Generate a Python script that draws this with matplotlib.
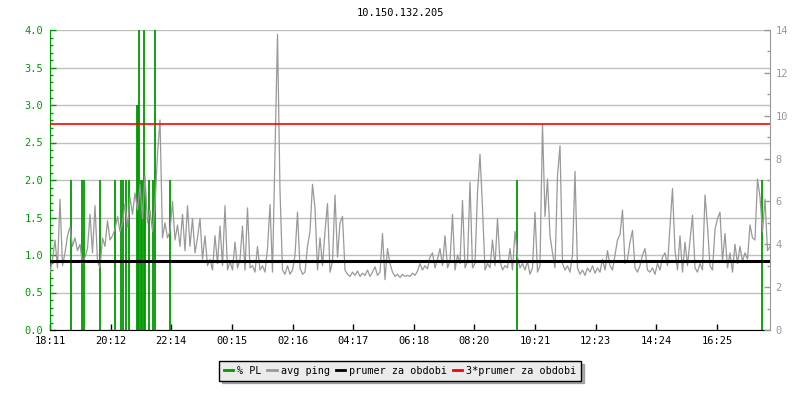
import numpy as np
import matplotlib
matplotlib.use("Agg")
import matplotlib.pyplot as plt
from matplotlib.lines import Line2D
from matplotlib.ticker import MultipleLocator, FormatStrFormatter

# avg ping in ms, one sample every 5 minutes starting 18:11
ping_ms = [
    2.7, 3.3, 4.2, 2.9, 6.1, 3.0, 3.6, 4.4, 4.8, 3.9, 4.3, 3.7, 4.0, 3.1, 3.4, 3.8,
    5.4, 3.6, 5.8, 3.2, 2.9, 4.3, 3.9, 5.1, 4.2, 4.4, 4.7, 5.3, 4.6, 5.0, 5.9, 4.8,
    6.2, 5.4, 6.4, 5.6, 6.8, 5.2, 7.2, 5.0, 5.6, 4.6, 5.8, 8.2, 9.8, 4.3, 5.0, 4.3,
    4.6, 6.0, 4.2, 4.9, 3.9, 5.4, 3.7, 5.8, 3.9, 5.2, 3.6, 4.3, 5.2, 3.3, 4.4, 3.0,
    3.3, 2.8, 4.4, 3.1, 4.85, 3.0, 5.8, 2.8, 3.2, 2.8, 4.1, 2.9, 3.3, 4.85, 2.8, 5.7,
    2.9, 3.0, 2.7, 3.9, 2.8, 3.0, 2.7, 3.8, 5.85, 2.7, 8.2, 13.8, 6.5, 2.8, 2.6, 3.0,
    2.6, 2.8, 3.5, 5.5, 2.9, 2.6, 2.7, 3.9, 4.6, 6.8, 5.7, 2.8, 4.3, 3.0, 4.6, 5.9,
    2.7, 3.2, 6.3, 3.4, 5.0, 5.3, 2.8, 2.6, 2.5, 2.7, 2.55, 2.75, 2.5, 2.65, 2.55, 2.8,
    2.5, 2.7, 2.95, 2.55, 2.7, 4.5, 2.35, 3.8, 3.1, 2.7, 2.5, 2.6, 2.45, 2.6, 2.5, 2.55,
    2.5, 2.65, 2.55, 2.75, 3.1, 2.8, 3.0, 2.85, 3.4, 3.6, 2.9, 3.3, 3.8, 3.0, 4.4, 2.9,
    3.2, 5.4, 2.8, 3.5, 3.1, 6.05, 2.9, 3.2, 6.9, 2.9, 3.1, 6.4, 8.2, 5.7, 2.8, 3.1,
    2.9, 4.2, 3.0, 5.2, 3.2, 2.8, 3.0, 2.9, 3.8, 2.8, 4.6, 3.4, 2.9, 3.1, 2.8, 3.2,
    2.6, 2.9, 5.5, 2.7, 3.0, 9.6, 5.3, 7.05, 4.4, 3.6, 2.9, 7.2, 8.6, 3.1, 2.8, 3.0,
    2.7, 3.5, 7.4, 2.9, 2.6, 2.8, 2.55, 2.9, 2.7, 3.0, 2.65, 2.9, 2.7, 3.3, 2.8, 3.7,
    3.0, 2.8, 3.5, 4.2, 4.45, 5.6, 3.1, 3.3, 4.1, 4.65, 2.9, 2.7, 3.0, 3.5, 3.8, 2.8,
    2.7, 2.9, 2.6, 3.1, 2.8, 3.4, 3.6, 3.0, 4.85, 6.6, 3.7, 2.8, 4.4, 2.7, 4.1, 3.0,
    4.2, 5.35, 2.9, 2.7, 3.1, 2.8, 6.3, 4.85, 3.0, 2.8, 4.7, 5.2, 5.5, 3.2, 4.5, 2.9,
    3.6, 2.7, 4.0, 3.1, 3.9, 3.2, 3.6, 3.3, 4.9, 4.3, 4.2, 7.05, 6.2, 4.6, 6.1, 3.7,
    3.9,
]
ping_step_min = 5

# packet loss in %, minutes after 18:11
pl_minutes = [41, 64, 67, 99, 129, 142, 145, 152, 157, 174, 176, 177, 182, 184,
              187, 189, 198, 205, 209, 240, 933, 1424]
pl_values = [2.0, 2.0, 2.0, 2.0, 2.0, 2.0, 2.0, 2.0, 2.0, 3.0, 3.0, 4.0, 2.0, 2.0,
             4.0, 2.0, 2.0, 2.0, 4.0, 2.0, 2.0, 2.0]

ping_mean = 3.2  # prumer za obdobi

tick_labels = ["18:11", "20:12", "22:14", "00:15", "02:16", "04:17",
               "06:18", "08:20", "10:21", "12:23", "14:24", "16:25"]
tick_step_min = 121.25

GREEN = "#009900"
GRAY = "#999999"
GRID = "#c0c0c0"
FS = 7.5
plt.rcParams["font.family"] = "DejaVu Sans Mono"
plt.rcParams["font.size"] = FS

fig = plt.figure(figsize=(8, 4), dpi=100)
ax = fig.add_axes([0.0625, 0.175, 0.9, 0.75])
ax2 = ax.twinx()

ping_x = np.arange(len(ping_ms)) * ping_step_min

# % PL on the left axis
ax.vlines(pl_minutes, 0, pl_values, color=GREEN, lw=1.3, zorder=2)
ax.set_ylim(0, 4)
ax.set_xlim(0, 1440)
ax.yaxis.set_major_locator(MultipleLocator(0.5))
ax.yaxis.set_minor_locator(MultipleLocator(0.1))
ax.yaxis.set_major_formatter(FormatStrFormatter("%.1f"))
ax.yaxis.grid(True, color=GRID, lw=1)
ax.set_axisbelow(True)
ax.tick_params(axis="y", which="both", direction="in", colors=GREEN, labelsize=FS, pad=5)
ax.tick_params(axis="y", which="major", length=4, width=1)
ax.tick_params(axis="y", which="minor", length=2.5, width=1)
ax.set_xticks(np.arange(len(tick_labels)) * tick_step_min)
ax.set_xticklabels(tick_labels)
ax.tick_params(axis="x", direction="in", length=4, width=1, colors="black", labelsize=FS, pad=4)
ax.spines["left"].set_color(GREEN)
ax.spines["right"].set_visible(False)
ax.spines["top"].set_visible(False)
ax.spines["bottom"].set_color("black")

# avg ping on the right axis
ax2.plot(ping_x, ping_ms, color=GRAY, lw=0.9)
ax2.axhline(ping_mean, color="black", lw=2.2)
ax2.axhline(3 * ping_mean, color="red", lw=1.2)
ax2.set_ylim(0, 14)
ax2.yaxis.set_major_locator(MultipleLocator(2))
ax2.yaxis.set_minor_locator(MultipleLocator(1))
ax2.tick_params(axis="y", which="both", direction="in", colors=GRAY, labelsize=FS, pad=4)
ax2.tick_params(axis="y", which="major", length=4, width=1)
ax2.tick_params(axis="y", which="minor", length=2.5, width=1)
ax2.spines["right"].set_color(GRAY)
for s in ("left", "top", "bottom"):
    ax2.spines[s].set_visible(False)

fig.text(0.5, 1 - 13 / 400, "10.150.132.205", ha="center", va="center", fontsize=FS)

handles = [
    Line2D([], [], color=GREEN, lw=2),
    Line2D([], [], color=GRAY, lw=2),
    Line2D([], [], color="black", lw=2),
    Line2D([], [], color="red", lw=2),
]
labels = ["% PL", "avg ping", "prumer za obdobi", "3*prumer za obdobi"]
leg = fig.legend(handles, labels, loc="center", bbox_to_anchor=(0.5, 0.0725), ncol=4,
                 fontsize=7.3, handlelength=0.9, handletextpad=0.4, columnspacing=0.6,
                 frameon=True, fancybox=False, shadow={"color": "#666666"},
                 edgecolor="black", facecolor="#ebebeb", borderpad=0.45)
leg.get_frame().set_linewidth(1)
leg.get_frame().set_alpha(1)

fig.savefig("out.png", dpi=100)
